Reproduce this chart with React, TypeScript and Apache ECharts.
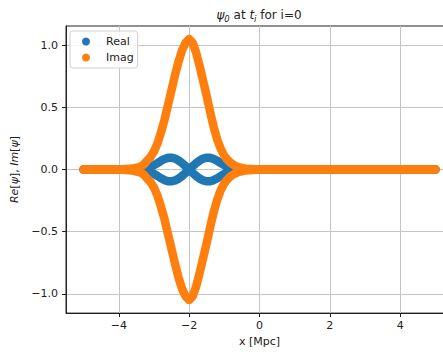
import { useEffect, useRef } from 'react';
import * as echarts from 'echarts';

// Sample positions along x [Mpc]
const xValues = [
  -5.0, -4.5, -4.0, -3.6, -3.4,
  -3.3, -3.2, -3.1, -3.0, -2.9, -2.8, -2.7, -2.6, -2.5, -2.4,
  -2.3, -2.2, -2.1, -2.0, -1.9, -1.8, -1.7, -1.6, -1.5, -1.4,
  -1.3, -1.2, -1.1, -1.0, -0.9, -0.8, -0.7, -0.6,
  -0.4, 0.0, 0.5, 1.0, 1.5, 2.0, 2.5, 3.0, 3.5, 4.0, 4.5, 5.0,
];

// Im[psi], upper and lower branches
const imagUpper = [
  0, 0, 0, 0.008, 0.022,
  0.038, 0.07, 0.1, 0.145, 0.21, 0.3, 0.4, 0.52, 0.64, 0.76,
  0.87, 0.96, 1.02, 1.05, 1.02, 0.94, 0.83, 0.71, 0.59, 0.46,
  0.34, 0.24, 0.165, 0.11, 0.075, 0.05, 0.032, 0.02,
  0.007, 0, 0, 0, 0, 0, 0, 0, 0, 0, 0, 0,
];
const imagLower = [
  0, 0, 0, -0.008, -0.022,
  -0.038, -0.07, -0.1, -0.145, -0.21, -0.3, -0.4, -0.52, -0.64, -0.76,
  -0.87, -0.96, -1.02, -1.05, -1.02, -0.94, -0.83, -0.71, -0.59, -0.46,
  -0.34, -0.24, -0.165, -0.11, -0.075, -0.05, -0.032, -0.02,
  -0.007, 0, 0, 0, 0, 0, 0, 0, 0, 0, 0, 0,
];

// Re[psi], the two crossing branches
const realA = [
  0, 0, 0, 0, 0,
  -0.002, -0.008, -0.02, -0.035, -0.052, -0.07, -0.085, -0.094, -0.095, -0.088,
  -0.073, -0.052, -0.027, 0, 0.027, 0.052, 0.073, 0.088, 0.095, 0.094,
  0.085, 0.07, 0.052, 0.035, 0.02, 0.008, 0.002, 0,
  0, 0, 0, 0, 0, 0, 0, 0, 0, 0, 0, 0,
];
const realB = [
  0, 0, 0, 0, 0,
  0.002, 0.008, 0.02, 0.035, 0.052, 0.07, 0.085, 0.094, 0.095, 0.088,
  0.073, 0.052, 0.027, 0, -0.027, -0.052, -0.073, -0.088, -0.095, -0.094,
  -0.085, -0.07, -0.052, -0.035, -0.02, -0.008, -0.002, 0,
  0, 0, 0, 0, 0, 0, 0, 0, 0, 0, 0, 0,
];

const xTicks = [-4, -2, 0, 2, 4];
const yTicks = [-1, -0.5, 0, 0.5, 1];
const seriesNames = ['Real', 'Imag'];
const seriesColors = ['#1f77b4', '#ff7f0e'];

const FONT = 'DejaVu Sans';
// The axes box runs past the right edge of the visible frame.
const VIEW_W = 443;
const VIEW_H = 352;
const CANVAS_W = 470;

const toPoints = (ys: number[]) => xValues.map((x, i) => [x, ys[i]]);
const minusSign = (s: string) => s.replace('-', '\u2212');

function curve(name: string, color: string, ys: number[]) {
  return {
    type: 'line',
    name,
    data: toPoints(ys),
    showSymbol: false,
    symbol: 'circle',
    color,
    itemStyle: { color },
    lineStyle: { color, width: 8.5, cap: 'round', join: 'round' },
    emphasis: { disabled: true },
    silent: true,
  };
}

export default function App() {
  const ref = useRef<HTMLDivElement>(null);

  useEffect(() => {
    if (!ref.current) return;
    const chart = echarts.init(ref.current, undefined, { renderer: 'svg' });
    chart.setOption({
      animation: false,
      backgroundColor: '#ffffff',
      textStyle: { fontFamily: FONT },
      grid: {
        left: 66,
        top: 26,
        right: CANVAS_W - 453,
        bottom: 38,
        show: true,
        borderColor: '#222',
        borderWidth: 1,
        backgroundColor: 'transparent',
      },
      graphic: [
        {
          type: 'text',
          x: 259,
          y: 15,
          style: {
            text: '{i|\u03c8}{s|0}{n| at }{i|t}{s|i}{n| for i=0}',
            align: 'center',
            verticalAlign: 'middle',
            textAlign: 'center',
            textVerticalAlign: 'middle',
            fill: '#222',
            fontFamily: FONT,
            fontSize: 12,
            rich: {
              n: { fontFamily: FONT, fontSize: 12, fill: '#222', lineHeight: 16 },
              i: { fontFamily: FONT, fontSize: 12, fontStyle: 'italic', fill: '#222', lineHeight: 16 },
              s: { fontFamily: FONT, fontSize: 8.5, fontStyle: 'italic', fill: '#222', lineHeight: 9, verticalAlign: 'bottom' },
            },
          },
        },
      ],
      legend: {
        data: seriesNames,
        left: 70,
        top: 31,
        orient: 'vertical',
        icon: 'circle',
        itemWidth: 8,
        itemHeight: 8,
        itemGap: 5,
        padding: [5, 4, 5, 12],
        borderColor: '#d0d0d0',
        borderWidth: 1,
        borderRadius: 3,
        backgroundColor: 'rgba(255,255,255,0.85)',
        textStyle: { fontFamily: FONT, fontSize: 11, color: '#222', padding: [0, 0, 0, 11] },
      },
      xAxis: {
        type: 'value',
        min: -5.5,
        max: 5.5,
        name: 'x [Mpc]',
        nameLocation: 'middle',
        nameGap: 21,
        nameTextStyle: { fontFamily: FONT, fontSize: 11, color: '#222' },
        axisLine: { show: true, onZero: false, lineStyle: { color: '#222', width: 1 } },
        axisTick: { show: true, length: 4, customValues: xTicks, lineStyle: { color: '#222' } },
        axisLabel: {
          customValues: xTicks,
          margin: 7,
          fontFamily: FONT,
          fontSize: 11,
          color: '#222',
          formatter: (v: number) => minusSign(String(v)),
        },
        splitLine: { show: true, lineStyle: { color: '#c4c4c4', width: 1 } },
      },
      yAxis: {
        type: 'value',
        min: -1.155,
        max: 1.155,
        name: '{i|Re}{n|[}{i|\u03c8}{n|], }{i|Im}{n|[}{i|\u03c8}{n|]}',
        nameLocation: 'middle',
        nameRotate: 90,
        nameGap: 39,
        nameTextStyle: {
          fontFamily: FONT,
          fontSize: 11,
          color: '#222',
          rich: {
            n: { fontFamily: FONT, fontSize: 11, color: '#222' },
            i: { fontFamily: FONT, fontSize: 11, fontStyle: 'italic', color: '#222' },
          },
        },
        axisLine: { show: true, onZero: false, lineStyle: { color: '#222', width: 1 } },
        axisTick: { show: true, length: 4, customValues: yTicks, lineStyle: { color: '#222' } },
        axisLabel: {
          customValues: yTicks,
          margin: 8,
          fontFamily: FONT,
          fontSize: 11,
          color: '#222',
          formatter: (v: number) => minusSign(v.toFixed(1)),
        },
        splitLine: { show: true, lineStyle: { color: '#c4c4c4', width: 1 } },
      },
      series: [
        curve(seriesNames[0], seriesColors[0], realA),
        curve(seriesNames[0], seriesColors[0], realB),
        curve(seriesNames[1], seriesColors[1], imagUpper),
        curve(seriesNames[1], seriesColors[1], imagLower),
      ],
    });
    return () => chart.dispose();
  }, []);

  return (
    <div
      style={{
        position: 'fixed',
        left: 0,
        top: 0,
        width: VIEW_W,
        height: VIEW_H,
        overflow: 'hidden',
        background: '#ffffff',
      }}
    >
      <div ref={ref} style={{ width: CANVAS_W, height: VIEW_H }} />
    </div>
  );
}
